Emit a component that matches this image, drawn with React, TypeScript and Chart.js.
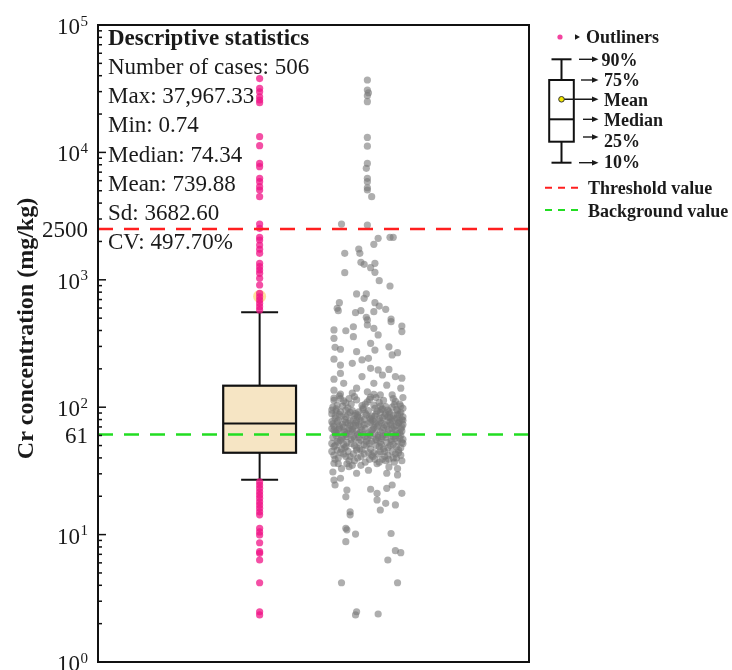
import React, { useEffect, useRef } from "react";
import { Chart, registerables } from "chart.js";

Chart.register(...registerables);

const FONT = '"Liberation Serif", "Times New Roman", serif';

// ---------------- data ----------------
const DECADE_TICKS = [1, 10, 100, 1000, 10000, 100000];
const DECADE_EXPONENTS = ["0", "1", "2", "3", "4", "5"];
const REFERENCE_TICKS = [61, 2500];
const REFERENCE_TICK_LABELS = ["61", "2500"];
const THRESHOLD_VALUE = 2500;
const BACKGROUND_VALUE = 61;

const BOX_POSITION = 1;
const SAMPLE_POSITION = 2;
const BOX_P10 = 27.0;
const BOX_Q1 = 43.9;
const BOX_MEDIAN = 74.34;
const BOX_Q3 = 147.5;
const BOX_P90 = 556;
const BOX_MEAN = 739.88;

const STATS_TITLE = "Descriptive statistics";
const STATS_LINES = [
  "Number of cases: 506",
  "Max: 37,967.33",
  "Min: 0.74",
  "Median: 74.34",
  "Mean: 739.88",
  "Sd: 3682.60",
  "CV: 497.70%",
];

const Y_TITLE = "Cr concentration (mg/kg)";

const LEGEND_OUTLIERS = "Outliners";
const LEGEND_BOX_LABELS = ["90%", "75%", "Mean", "Median", "25%", "10%"];
const LEGEND_THRESHOLD = "Threshold value";
const LEGEND_BACKGROUND = "Background value";

// outliers (pink), plotted at the box position
const OUTLIER_VALUES = [
  37967.33, 31850, 29940, 27350, 25770, 24550, 13280, 11290, 8200, 7720, 6260,
  5890, 5380, 5070, 4490, 2740, 2535, 2158, 2053, 1876, 1735, 1614, 1348, 1268,
  1194, 1125, 1028, 910, 783, 736, 693, 654, 615, 580,
  26.0, 24.5, 23.1, 21.7, 20.5, 19.3, 18.1, 17.1, 16.1, 15.1, 14.3, 11.2, 10.5,
  9.93, 8.63, 7.34, 7.13, 6.32, 4.19, 2.48, 2.34,
];

// all samples (grey), [horizontal jitter, concentration]
const SAMPLES: [number, number][] = [
  [0.0, 37000], [0.0, 30900], [0.01, 29400], [0.0, 27900], [0.0, 25000],
  [0.0, 13100], [0.0, 11200], [0.0, 8200], [-0.01, 7500], [0.0, 6260],
  [0.0, 5890], [0.0, 5280], [0.0, 5070], [0.04, 4490], [-0.24, 2740], [0.0, 2690],
  [0.1, 2118], [0.21, 2155], [0.24, 2155], [0.06, 1900], [-0.21, 1615],
  [-0.08, 1745], [-0.07, 1615], [-0.06, 1372], [-0.03, 1323], [0.03, 1245],
  [0.07, 1347], [0.07, 1145], [0.11, 984], [-0.21, 1137], [0.21, 894],
  [-0.1, 774], [-0.01, 774], [-0.03, 716], [-0.26, 661], [-0.28, 597],
  [0.07, 661], [0.11, 622], [0.17, 587], [-0.11, 552], [-0.06, 572],
  [0.06, 562], [-0.01, 508], [0.22, 492],
  [-0.27, 572], [0.0, 484], [0.0, 442], [0.22, 469], [0.32, 434], [0.32, 392],
  [-0.31, 404], [-0.2, 398], [-0.13, 428], [0.06, 416], [0.1, 369],
  [-0.13, 358], [-0.31, 347], [0.03, 317], [-0.3, 295], [-0.25, 285],
  [-0.1, 273], [0.07, 281], [0.2, 298], [0.28, 268], [0.23, 257],
  [-0.05, 235], [-0.31, 238], [-0.14, 221], [-0.25, 214], [0.01, 242],
  [0.03, 202], [0.1, 196], [0.2, 198], [-0.25, 184], [0.32, 169],
  [-0.31, 166], [-0.05, 174], [0.14, 179], [0.26, 174], [-0.22, 154],
  [0.06, 154], [0.18, 149], [-0.1, 141], [-0.31, 136], [0.31, 141],
  [0.0, 132], [-0.14, 129], [0.12, 125], [0.23, 125], [-0.25, 117], [0.03, 120],
  [-0.31, 118], [-0.22, 112], [-0.12, 121], [0.02, 115], [0.11, 109], [0.24, 117], [0.3, 106],
  [-0.28, 104], [-0.18, 99], [-0.05, 103], [0.07, 98], [0.17, 101], [0.27, 96], [-0.33, 95],
  [-0.25, 92], [-0.14, 94], [-0.02, 90], [0.09, 93], [0.21, 89], [0.31, 91], [-0.09, 87],
  [-0.3, 86], [-0.2, 84], [-0.07, 82], [0.04, 85], [0.14, 83], [0.25, 81], [0.33, 84],
  [-0.27, 79], [-0.16, 78], [-0.03, 80], [0.06, 77], [0.19, 79], [0.29, 76], [-0.11, 75],
  [-0.32, 74], [-0.23, 73], [-0.13, 71], [0.0, 74], [0.1, 72], [0.22, 73], [0.32, 70],
  [-0.26, 69], [-0.17, 68], [-0.06, 70], [0.05, 67], [0.15, 69], [0.26, 66], [-0.31, 66],
  [-0.21, 64], [-0.1, 65], [0.01, 63], [0.12, 64], [0.23, 62], [0.3, 63], [-0.04, 61],
  [-0.29, 60], [-0.19, 59], [-0.08, 58], [0.03, 60], [0.13, 57], [0.24, 59], [0.33, 56],
  [-0.25, 55], [-0.15, 56], [-0.01, 54], [0.08, 55], [0.18, 53], [0.28, 54], [-0.33, 52],
  [-0.22, 51], [-0.12, 50], [0.02, 52], [0.11, 49], [0.21, 50], [0.31, 48], [-0.07, 47],
  [-0.28, 46], [-0.18, 45], [-0.05, 46], [0.06, 44], [0.16, 45], [0.26, 43], [-0.31, 42],
  [-0.2, 41], [-0.09, 40], [0.04, 42], [0.14, 39], [0.24, 40], [0.32, 38], [-0.02, 37],
  [-0.27, 36], [-0.14, 35], [0.09, 36], [0.2, 34], [-0.24, 33], [0.01, 32], [0.28, 33], [-0.32, 31],
  [-0.29, 97], [-0.16, 91], [-0.04, 96], [0.08, 88], [0.19, 95], [0.28, 87],
  [-0.24, 85], [-0.11, 89], [0.03, 81], [0.16, 86], [0.23, 78], [0.32, 80],
  [-0.33, 77], [-0.2, 76], [-0.08, 73], [0.05, 79], [0.13, 75], [0.27, 72],
  [-0.26, 71], [-0.14, 67], [-0.02, 68], [0.09, 70], [0.2, 67], [0.31, 68],
  [-0.3, 64], [-0.19, 62], [-0.07, 63], [0.07, 62], [0.17, 61], [0.26, 60],
  [-0.23, 58], [-0.12, 57], [0.0, 57], [0.1, 58], [0.22, 56], [0.3, 57],
  [-0.27, 53], [-0.15, 52], [-0.03, 51], [0.12, 53], [0.24, 51], [0.33, 52],
  [-0.31, 49], [-0.21, 48], [-0.1, 48], [0.03, 47], [0.15, 47], [0.27, 49],
  [-0.25, 44], [-0.13, 43], [0.01, 44], [0.1, 43], [0.19, 42], [0.29, 44],
  [-0.3, 39], [-0.17, 38], [-0.06, 41], [0.07, 39], [0.17, 38], [0.25, 37],
  [-0.22, 65], [0.18, 71], [-0.1, 78], [0.21, 83], [-0.18, 88], [0.12, 91],
  [-0.06, 55], [0.14, 59], [-0.28, 62], [0.04, 66], [-0.16, 72], [0.29, 75],
  [0.25, 105], [-0.2, 108], [0.0, 110], [0.15, 113], [-0.1, 114], [0.08, 119], [-0.26, 123],
  [-0.32, 100], [-0.23, 102], [-0.15, 106], [-0.04, 99], [0.06, 104], [0.14, 97], [0.23, 100], [0.31, 102],
  [-0.29, 93], [-0.2, 95], [-0.08, 92], [0.01, 94], [0.13, 96], [0.2, 92], [0.28, 94], [0.33, 98],
  [-0.33, 89], [-0.26, 88], [-0.12, 86], [-0.01, 87], [0.07, 85], [0.17, 89], [0.24, 86], [0.3, 88],
  [-0.3, 82], [-0.21, 80], [-0.09, 84], [0.02, 83], [0.11, 81], [0.19, 84], [0.27, 82], [0.33, 79],
  [-0.28, 77], [-0.18, 75], [-0.06, 78], [0.03, 76], [0.12, 78], [0.21, 76], [0.3, 78], [-0.13, 80],
  [-0.31, 71], [-0.22, 70], [-0.11, 72], [-0.03, 73], [0.07, 74], [0.16, 73], [0.25, 70], [0.33, 73],
  [-0.27, 67], [-0.16, 66], [-0.05, 66], [0.06, 69], [0.14, 66], [0.23, 68], [0.32, 65], [-0.33, 68],
  [-0.29, 63], [-0.2, 61], [-0.09, 61], [0.02, 61], [0.1, 60], [0.19, 63], [0.28, 62], [-0.14, 64],
  [-0.32, 58], [-0.24, 57], [-0.13, 59], [-0.02, 59], [0.08, 56], [0.17, 58], [0.26, 57], [0.31, 60],
  [-0.28, 54], [-0.19, 53], [-0.08, 53], [0.04, 54], [0.13, 51], [0.22, 54], [0.32, 53], [-0.01, 50],
  [-0.3, 50], [-0.2, 49], [-0.1, 46], [0.08, 50], [0.19, 48], [0.29, 46], [-0.24, 47], [0.12, 45],
  [-0.33, 45], [-0.22, 43], [-0.03, 43], [0.05, 41], [0.23, 45], [0.31, 42], [-0.16, 41], [0.16, 41],
  [-0.27, 40], [-0.12, 38], [0.02, 39], [0.2, 39], [-0.19, 36], [0.11, 37], [0.27, 40], [-0.06, 35],
  [-0.31, 113], [-0.17, 117], [-0.02, 106], [0.12, 102], [0.26, 111], [0.33, 119], [-0.25, 127], [0.06, 126],
  [-0.31, 36.3], [-0.17, 34.1], [-0.1, 30.3], [-0.31, 26.8], [-0.3, 24.5],
  [-0.25, 27.7], [-0.19, 22.4], [-0.2, 19.8], [0.03, 22.7], [0.09, 21.1],
  [0.09, 18.7], [0.17, 17.6], [0.12, 15.6], [0.18, 30.3], [0.28, 29.4],
  [0.32, 21.1], [0.26, 17.1], [0.23, 24.5], [0.18, 23.1], [-0.16, 15.1],
  [-0.16, 14.3], [-0.2, 11.2], [-0.19, 10.9], [-0.11, 10.1], [-0.2, 8.8],
  [0.22, 10.2], [0.26, 7.48], [0.31, 7.21], [0.19, 6.32], [-0.24, 4.19],
  [0.28, 4.19], [-0.1, 2.48], [-0.11, 2.34], [0.1, 2.38],
];

// ---------------- sizes / styles ----------------
const BOX_WIDTH = 0.676; // in x-units
const CAP_WIDTH = 0.343;
const TEXT_COLOR = "#1a1a1a";

function line(ctx: CanvasRenderingContext2D, x1: number, y1: number, x2: number, y2: number) {
  ctx.beginPath();
  ctx.moveTo(x1, y1);
  ctx.lineTo(x2, y2);
  ctx.stroke();
}

function arrow(ctx: CanvasRenderingContext2D, x1: number, x2: number, y: number) {
  ctx.lineWidth = 1.4;
  line(ctx, x1, y, x2 - 4, y);
  ctx.beginPath();
  ctx.moveTo(x2, y);
  ctx.lineTo(x2 - 6.5, y - 2.8);
  ctx.lineTo(x2 - 6.5, y + 2.8);
  ctx.closePath();
  ctx.fill();
}

const decorPlugin = {
  id: "decor",
  beforeDatasetsDraw(chart: any) {
    const { ctx, scales } = chart;
    const x = scales.x;
    const y = scales.y;
    const cx = x.getPixelForValue(BOX_POSITION);
    const half = x.getPixelForValue(BOX_POSITION + BOX_WIDTH / 2) - cx;
    const capHalf = x.getPixelForValue(BOX_POSITION + CAP_WIDTH / 2) - cx;
    const y10 = y.getPixelForValue(BOX_P10);
    const y25 = y.getPixelForValue(BOX_Q1);
    const y50 = y.getPixelForValue(BOX_MEDIAN);
    const y75 = y.getPixelForValue(BOX_Q3);
    const y90 = y.getPixelForValue(BOX_P90);
    ctx.save();
    ctx.strokeStyle = "#111";
    ctx.lineWidth = 2;
    line(ctx, cx, y90, cx, y75);
    line(ctx, cx, y25, cx, y10);
    line(ctx, cx - capHalf, y90, cx + capHalf, y90);
    line(ctx, cx - capHalf, y10, cx + capHalf, y10);
    ctx.fillStyle = "#F6E5C4";
    ctx.fillRect(cx - half, y75, half * 2, y25 - y75);
    ctx.lineWidth = 2.2;
    ctx.strokeRect(cx - half, y75, half * 2, y25 - y75);
    ctx.lineWidth = 2;
    line(ctx, cx - half, y50, cx + half, y50);
    ctx.restore();
  },
  afterDatasetsDraw(chart: any) {
    const { ctx, chartArea: a, scales } = chart;
    const y = scales.y;
    ctx.save();

    // reference lines
    ctx.lineWidth = 2.5;
    ctx.setLineDash([15, 11]);
    ctx.strokeStyle = "#FF1F1F";
    const yt = y.getPixelForValue(THRESHOLD_VALUE);
    line(ctx, a.left, yt, a.right, yt);
    ctx.strokeStyle = "#22DD22";
    const yb = y.getPixelForValue(BACKGROUND_VALUE);
    line(ctx, a.left, yb, a.right, yb);
    ctx.setLineDash([]);

    // frame
    ctx.strokeStyle = "#111";
    ctx.lineWidth = 2;
    ctx.strokeRect(a.left, a.top, a.right - a.left, a.bottom - a.top);

    // ticks (inward)
    ctx.lineWidth = 1.5;
    for (let i = 0; i < DECADE_TICKS.length; i++) {
      const d = DECADE_TICKS[i];
      const py = y.getPixelForValue(d);
      line(ctx, a.left, py, a.left + 8, py);
      if (i < DECADE_TICKS.length - 1) {
        for (let m = 2; m <= 9; m++) {
          const pm = y.getPixelForValue(d * m);
          line(ctx, a.left, pm, a.left + 4, pm);
        }
      }
    }

    // tick labels
    ctx.fillStyle = TEXT_COLOR;
    ctx.textAlign = "right";
    ctx.textBaseline = "alphabetic";
    const labelRight = a.left - 10;
    for (let i = 0; i < DECADE_TICKS.length; i++) {
      const py = y.getPixelForValue(DECADE_TICKS[i]);
      ctx.font = `15px ${FONT}`;
      const sup = DECADE_EXPONENTS[i];
      const sw = ctx.measureText(sup).width;
      ctx.fillText(sup, labelRight, py + 0.5);
      ctx.font = `23px ${FONT}`;
      ctx.fillText("10", labelRight - sw - 0.5, py + 9);
    }
    ctx.font = `23px ${FONT}`;
    for (let i = 0; i < REFERENCE_TICKS.length; i++) {
      const py = y.getPixelForValue(REFERENCE_TICKS[i]);
      ctx.fillText(REFERENCE_TICK_LABELS[i], labelRight, py + 8);
    }

    // y title
    ctx.save();
    ctx.translate(33, 328.5);
    ctx.rotate(-Math.PI / 2);
    ctx.textAlign = "center";
    ctx.font = `bold 24px ${FONT}`;
    ctx.fillText(Y_TITLE, 0, 0);
    ctx.restore();

    // descriptive statistics
    ctx.textAlign = "left";
    const sx = a.left + 10;
    ctx.font = `bold 23px ${FONT}`;
    ctx.fillText(STATS_TITLE, sx, 45);
    ctx.font = `23px ${FONT}`;
    STATS_LINES.forEach((t, i) => ctx.fillText(t, sx, 74 + i * 29.2));

    // legend
    const r = a.right;
    ctx.fillStyle = "rgba(240,20,135,0.8)";
    ctx.beginPath();
    ctx.arc(r + 31, 37, 2.6, 0, Math.PI * 2);
    ctx.fill();
    ctx.fillStyle = TEXT_COLOR;
    ctx.beginPath();
    ctx.moveTo(r + 51, 37);
    ctx.lineTo(r + 46, 34.2);
    ctx.lineTo(r + 46, 39.8);
    ctx.closePath();
    ctx.fill();
    ctx.font = `bold 18px ${FONT}`;
    ctx.fillText(LEGEND_OUTLIERS, r + 57, 43);

    // legend box glyph
    const bx = r + 32.5;
    ctx.strokeStyle = "#111";
    ctx.lineWidth = 2;
    line(ctx, bx - 10, 59.3, bx + 10, 59.3);
    line(ctx, bx, 59.3, bx, 80);
    ctx.strokeRect(bx - 12.3, 80, 24.6, 61.7);
    line(ctx, bx - 12.3, 119.3, bx + 12.3, 119.3);
    line(ctx, bx, 141.7, bx, 162.7);
    line(ctx, bx - 10, 162.7, bx + 10, 162.7);

    const arrowStarts = [r + 50, r + 52, bx, r + 54, r + 54, r + 50];
    const arrowYs = [59.3, 80, 99.3, 119.3, 137, 162.7];
    const textMids = [59.5, 80, 99.5, 120, 140.5, 161.5];
    const tip = r + 69.5;
    ctx.fillStyle = TEXT_COLOR;
    ctx.strokeStyle = TEXT_COLOR;
    for (let i = 0; i < LEGEND_BOX_LABELS.length; i++) {
      arrow(ctx, arrowStarts[i], tip, arrowYs[i]);
      ctx.font = `bold 18px ${FONT}`;
      ctx.fillText(LEGEND_BOX_LABELS[i], i === 0 ? r + 72.5 : r + 75, textMids[i] + 6);
    }
    // mean dot
    ctx.fillStyle = "#F2E600";
    ctx.strokeStyle = "#333";
    ctx.lineWidth = 1;
    ctx.beginPath();
    ctx.arc(bx, 99.3, 2.8, 0, Math.PI * 2);
    ctx.fill();
    ctx.stroke();

    // reference line legend
    ctx.lineWidth = 2;
    ctx.setLineDash([7, 6]);
    ctx.strokeStyle = "#FF1F1F";
    line(ctx, r + 16, 187.7, r + 53, 187.7);
    ctx.strokeStyle = "#22DD22";
    line(ctx, r + 16, 210, r + 53, 210);
    ctx.setLineDash([]);
    ctx.fillStyle = TEXT_COLOR;
    ctx.font = `bold 18px ${FONT}`;
    ctx.fillText(LEGEND_THRESHOLD, r + 59, 194);
    ctx.fillText(LEGEND_BACKGROUND, r + 59, 216.5);

    ctx.restore();
  },
};

export default function App() {
  const ref = useRef<HTMLCanvasElement | null>(null);
  useEffect(() => {
    if (!ref.current) return;
    const chart = new Chart(ref.current, {
      type: "scatter",
      data: {
        datasets: [
          {
            label: "Outliers",
            data: OUTLIER_VALUES.map((v) => ({ x: BOX_POSITION, y: v })),
            backgroundColor: "rgba(240,20,135,0.75)",
            borderWidth: 0,
            pointRadius: 3.6,
            pointHoverRadius: 3.6,
            order: 1,
          },
          {
            label: "Samples",
            data: SAMPLES.map(([j, v]) => ({ x: SAMPLE_POSITION + j, y: v })),
            backgroundColor: "rgba(120,120,120,0.6)",
            borderWidth: 0,
            pointRadius: 3.6,
            pointHoverRadius: 3.6,
            order: 2,
          },
          {
            label: "Mean",
            data: [{ x: BOX_POSITION, y: BOX_MEAN }],
            backgroundColor: "rgba(255,205,90,0.6)",
            borderWidth: 0,
            pointRadius: 6.5,
            pointHoverRadius: 6.5,
            order: 3,
          },
        ],
      },
      options: {
        animation: false,
        responsive: true,
        maintainAspectRatio: false,
        devicePixelRatio: 1,
        events: [],
        layout: { padding: { left: 98, right: 203, top: 25, bottom: 38 } },
        plugins: { legend: { display: false }, tooltip: { enabled: false } },
        scales: {
          x: { type: "linear", min: -0.5, max: 3.5, display: false },
          y: { type: "logarithmic", min: 1, max: 100000, display: false },
        },
      },
      plugins: [decorPlugin],
    });
    return () => chart.destroy();
  }, []);
  return (
    <div
      style={{
        position: "fixed",
        left: 0,
        top: 0,
        width: 732,
        height: 670,
        overflow: "hidden",
        background: "#fff",
      }}
    >
      <div style={{ position: "relative", width: 732, height: 700 }}>
        <canvas ref={ref} />
      </div>
    </div>
  );
}
